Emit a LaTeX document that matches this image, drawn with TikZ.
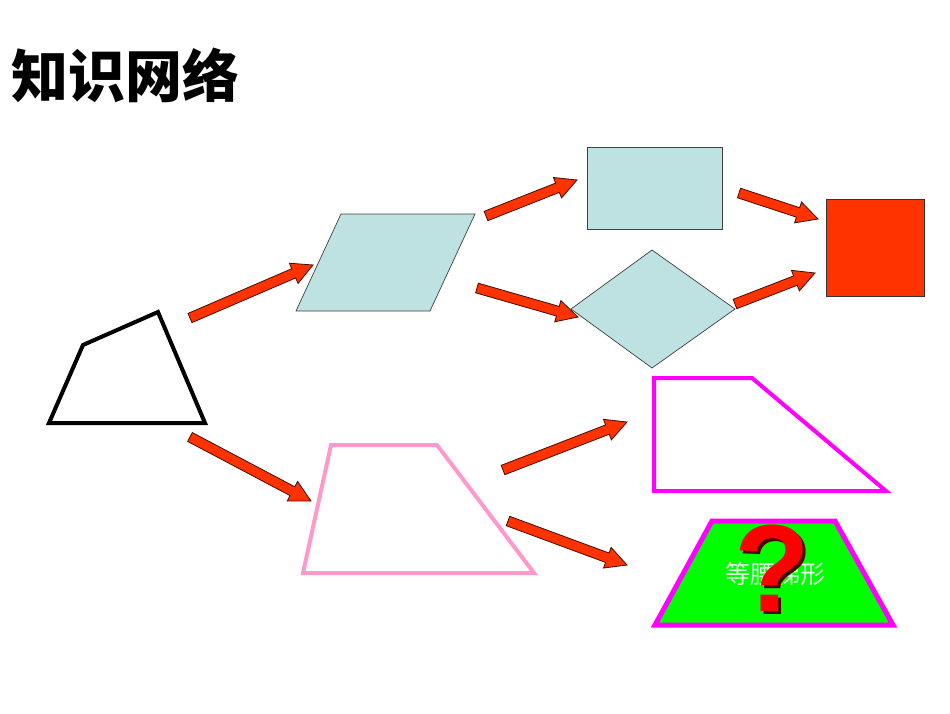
\documentclass[tikz,border=0pt]{standalone}
\usepackage{fontspec}
\setmainfont{Liberation Sans}
\newfontfamily\cjk{Noto Sans CJK SC}
\usetikzlibrary{calc}
\definecolor{lblue}{RGB}{190,225,225}
\definecolor{arrred}{RGB}{255,51,0}
\definecolor{arrline}{RGB}{70,10,0}
\definecolor{sqred}{RGB}{255,51,0}
\definecolor{mag}{RGB}{255,0,255}
\definecolor{pinkc}{RGB}{255,153,204}
\definecolor{brightgreen}{RGB}{0,255,0}
\definecolor{paletext}{RGB}{225,255,225}
\tikzset{
  blockarr/.style={fill=arrred, draw=arrline, line width=0.8pt, line join=miter},
  blueshape/.style={fill=lblue, draw=black!75, line width=0.7pt},
  outlineshape/.style={line width=4pt, line join=miter},
}
\newcommand\blockarrow[2]{%
  \coordinate (h-#1) at ($(#2)!21pt!(#1)$);
  \draw[blockarr]
    ($(#1)!5pt!90:(#2)$) -- ($(h-#1)!5pt!-90:(#1)$) -- ($(h-#1)!11pt!-90:(#1)$)
    -- (#2) -- ($(h-#1)!11pt!90:(#1)$) -- ($(h-#1)!5pt!90:(#1)$)
    -- ($(#1)!5pt!-90:(#2)$) -- cycle;
}
\begin{document}
\begin{tikzpicture}[x=1pt,y=-1pt]
\useasboundingbox (0,0) rectangle (950,713);
\fill[white] (0,0) rectangle (950,713);
% title
\node[anchor=west, inner sep=0pt, font=\cjk\bfseries\fontsize{57}{57}\selectfont] (title) at (11,75) {知识网络};
% general quadrilateral
\draw[outlineshape, black] (49,423) -- (83,345) -- (158,312) -- (205,423) -- cycle;
% parallelogram
\draw[blueshape] (296,311) -- (341,214) -- (475,214) -- (430,311) -- cycle;
% rectangle
\draw[blueshape] (587,147) rectangle (722,229);
% rhombus
\draw[blueshape] (571,309) -- (652,250) -- (735,309) -- (652,368) -- cycle;
% square
\draw[fill=sqred, draw=black!80, line width=0.7pt] (826,199) rectangle (924,296);
% right trapezoid
\draw[outlineshape, mag] (654,378) -- (752,378) -- (886,491) -- (654,491) -- cycle;
% trapezoid
\draw[outlineshape, pinkc] (331,445) -- (437,445) -- (534,573) -- (303,573) -- cycle;
% isosceles trapezoid
\draw[fill=brightgreen, draw=mag, line width=5pt, line join=miter] (712,521) -- (835,521) -- (893,625) -- (655,625) -- cycle;
\node[inner sep=0pt, text=paletext, font=\cjk\fontsize{25}{25}\selectfont] (iso) at (775,574) {等腰梯形};
\node[inner sep=0pt, text=black!70!red, font=\bfseries\fontsize{124}{124}\selectfont] (qs) at (775,571) {?};
\node[inner sep=0pt, text=red, font=\bfseries\fontsize{124}{124}\selectfont] (q) at (772,568) {?};
% arrow end points
\coordinate (a1s) at (190,318); \coordinate (a1e) at (313,265);
\coordinate (a2s) at (486,216); \coordinate (a2e) at (577,180);
\coordinate (a3s) at (739,193); \coordinate (a3e) at (818,219);
\coordinate (a4s) at (477,288); \coordinate (a4e) at (578,317);
\coordinate (a5s) at (735,304); \coordinate (a5e) at (815,273);
\coordinate (a6s) at (190,437); \coordinate (a6e) at (311,501);
\coordinate (a7s) at (503,470); \coordinate (a7e) at (627,422);
\coordinate (a8s) at (508,521); \coordinate (a8e) at (627,565);
\blockarrow{a1s}{a1e}
\blockarrow{a2s}{a2e}
\blockarrow{a3s}{a3e}
\blockarrow{a4s}{a4e}
\blockarrow{a5s}{a5e}
\blockarrow{a6s}{a6e}
\blockarrow{a7s}{a7e}
\blockarrow{a8s}{a8e}
\end{tikzpicture}
\end{document}
